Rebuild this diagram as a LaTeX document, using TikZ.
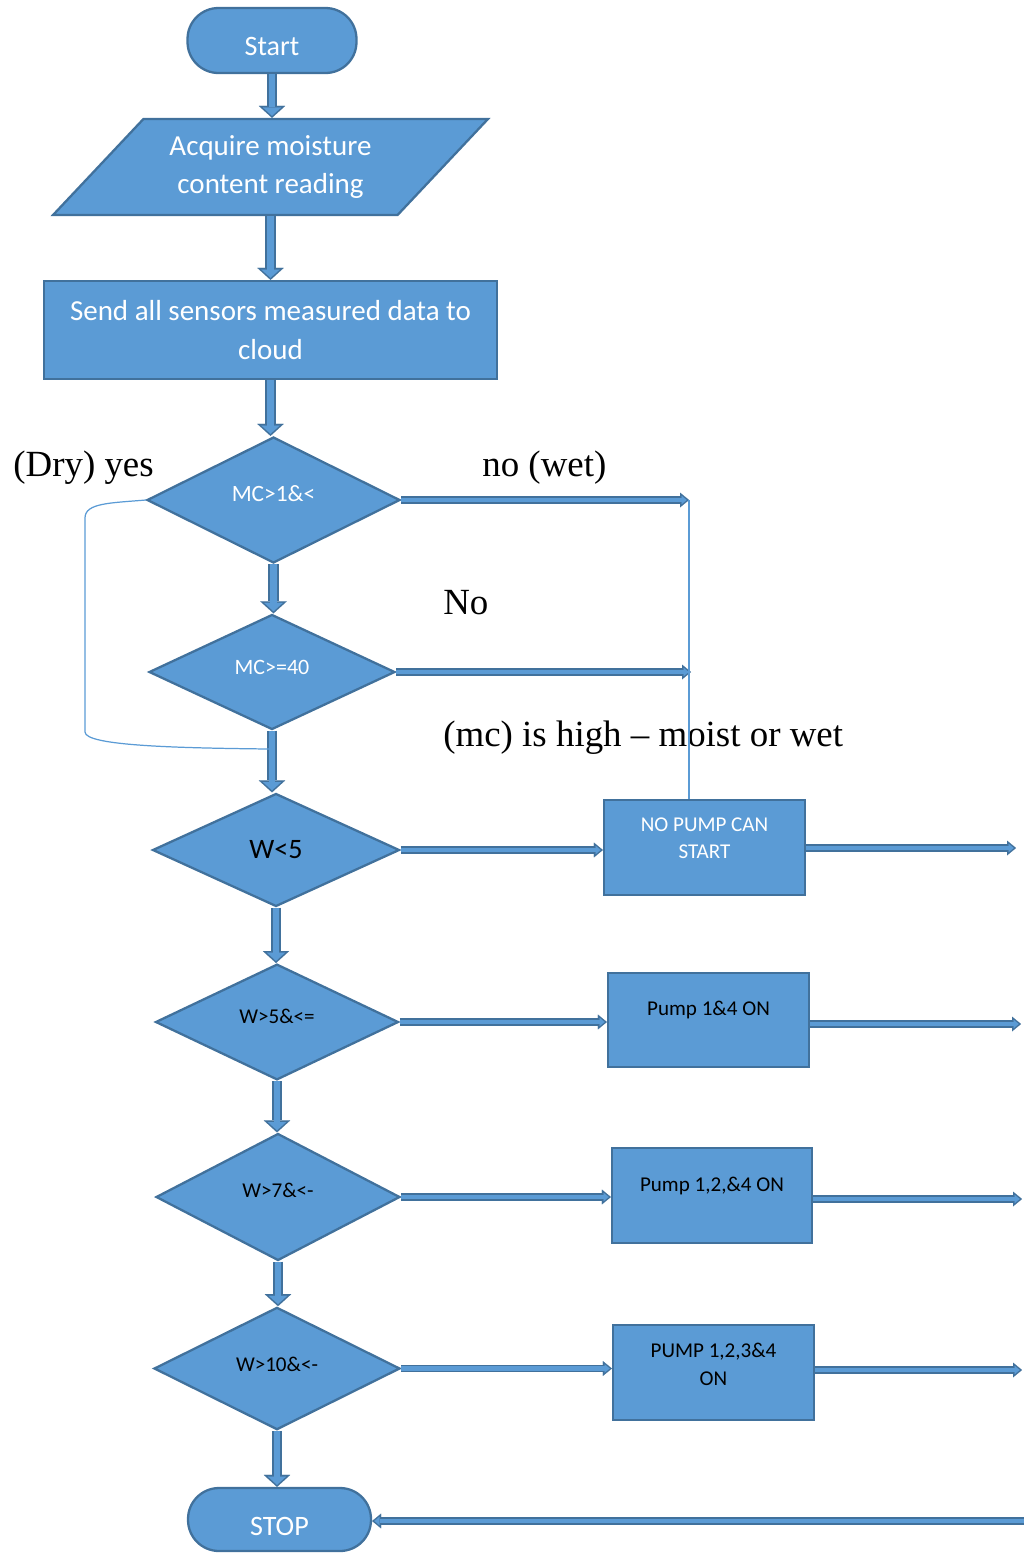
\documentclass[tikz,border=0pt]{standalone}
\usepackage{fontspec}
\setmainfont{Carlito}
\newfontfamily\labelfont{Liberation Serif}
\usetikzlibrary{shapes.geometric, arrows.meta, positioning}

\definecolor{boxblue}{RGB}{91,155,213}
\definecolor{edgeblue}{RGB}{65,113,156}

% text set a little above the middle of its shape
\newcommand{\lift}[2][4.5pt]{\raisebox{#1}[\height][\depth]{\begin{tabular}{@{}c@{}}#2\end{tabular}}}

\begin{document}
\begin{tikzpicture}[x=0.02cm, y=-0.02cm,
    base/.style={draw=edgeblue, fill=boxblue, line width=1.3pt, inner sep=2pt},
    terminal/.style={base, rectangle, rounded corners=0.62cm, text=white, font=\fontsize{16}{19}\selectfont},
    io/.style={base, trapezium, trapezium left angle=38, trapezium right angle=142, trapezium stretches body,
      minimum width=8.7cm, minimum height=1.92cm, text=white, align=center, font=\fontsize{16.5}{22}\selectfont},
    process/.style={base, rectangle, minimum width=9.06cm, minimum height=1.96cm, text=white, align=center,
      font=\fontsize{16.5}{22}\selectfont},
    decision/.style={base, diamond, minimum width=4.92cm, minimum height=2.24cm, font=\fontsize{12}{15}\selectfont},
    pumpbox/.style={base, rectangle, minimum width=4.02cm, minimum height=1.9cm, font=\fontsize{12}{15.6}\selectfont},
    remark/.style={font=\labelfont\fontsize{21}{25}\selectfont, anchor=west, inner sep=0pt},
    downflow/.style={preaction={draw=edgeblue, line width=6.2pt, shorten >=0pt,
        -{Triangle[length=6.8pt, width=15pt, line width=0.01pt]}},
      draw=boxblue, line width=3.9pt, shorten >=1.2pt, -{Triangle[length=4.7pt, width=10.4pt, line width=0.01pt]}},
    sideflow/.style={preaction={draw=edgeblue, line width=4.5pt, shorten >=0pt,
        -{Triangle[length=5.1pt, width=8.4pt, line width=0.01pt]}},
      draw=boxblue, line width=2.8pt, shorten >=1.3pt, -{Triangle[length=2.9pt, width=4.8pt, line width=0.01pt]}},
    thinline/.style={draw=boxblue, line width=0.7pt}
  ]

  \useasboundingbox (0,0) rectangle (1024,1553);

  % main column
  \node[terminal, minimum width=3.38cm, minimum height=1.3cm, text height=17.6pt, text depth=0pt] (start) at (272,40.5) {Start};
  \node[io] (acq) at (270.5,167) {Acquire moisture\\content reading};
  \node[process] (cloud) at (270.5,330) {Send all sensors measured data to\\cloud};
  \node[decision, minimum width=5.06cm, minimum height=2.52cm, text=white, font=\fontsize{13.3}{16}\selectfont] (mc1) at (273.5,500) {\lift[2.3pt]{MC>1\&<}};
  \node[decision, text=white, font=\fontsize{12.5}{15}\selectfont] (mc2) at (272,672) {\lift[1.7pt]{MC>=40}};
  \node[decision, minimum width=4.94cm, minimum height=2.26cm, font=\fontsize{16}{19}\selectfont] (w1) at (276,850) {W<5};
  \node[decision, minimum width=4.86cm] (w2) at (277,1022) {\lift[2.3pt]{W>5\&<=}};
  \node[decision, minimum width=4.88cm, minimum height=2.54cm] (w3) at (278,1197) {\lift[2.8pt]{W>7\&<-}};
  \node[decision] (w4) at (277,1368.5) {\lift[1.1pt]{W>10\&<-}};
  \node[terminal, minimum width=3.66cm, minimum height=1.26cm, text height=18.7pt, text depth=0pt] (stop) at (279.5,1519.5) {STOP};

  % pumps
  \node[pumpbox, text=white] (nopump) at (704.5,847.5) {\lift{NO PUMP CAN\\START}};
  \node[pumpbox, minimum height=1.88cm] (pump14) at (708.5,1020) {\lift[5.7pt]{Pump 1\&4 ON}};
  \node[pumpbox, minimum width=4cm] (pump124) at (712,1195.5) {\lift[5.4pt]{Pump 1,2,\&4 ON}};
  \node[pumpbox] (pump1234) at (713.5,1372.5) {\lift[3.7pt]{PUMP 1,2,3\&4\\ON}};

  % notes
  \node[remark] (dry) at (13,468) {(Dry) yes};
  \node[remark] (wet) at (482,468) {no (wet)};
  \node[remark] (no) at (443,603) {No};
  \node[remark] (high) at (443,738) {(mc) is high – moist or wet};

  \coordinate (wet1) at (689,500);
  \coordinate (wet2) at (691,672);
  \coordinate (loopend) at (269,749);
  \coordinate (exit1) at (1016,848);
  \coordinate (exit2) at (1021,1024);
  \coordinate (exit3) at (1022,1199);
  \coordinate (exit4) at (1022,1370);
  \coordinate (stopin) at (1024,1521);

  \draw[downflow] (start.south) -- (start.south |- acq.north);
  \draw[downflow] (acq.south) -- (acq.south |- cloud.north);
  \draw[downflow] (cloud.south) -- (cloud.south |- mc1.north);
  \draw[downflow] (mc1.south) -- (mc1.south |- mc2.north);
  \draw[downflow] (mc2.south) -- (mc2.south |- w1.north);
  \draw[downflow] (w1.south) -- (w1.south |- w2.north);
  \draw[downflow] (w2.south) -- (w2.south |- w3.north);
  \draw[downflow] (w3.south) -- (w3.south |- w4.north);
  \draw[downflow] (w4.south) -- (w4.south |- stop.north);

  \draw[sideflow] (mc1.east) -- (wet1);
  \draw[sideflow] (mc2.east) -- (wet2);
  \draw[sideflow] (w1.east) -- (w1.east -| nopump.west);
  \draw[sideflow] (w2.east) -- (w2.east -| pump14.west);
  \draw[sideflow] (w3.east) -- (w3.east -| pump124.west);
  \draw[sideflow] (w4.east) -- (w4.east -| pump1234.west);
  \draw[sideflow] (nopump.east |- exit1) -- (exit1);
  \draw[sideflow] (pump14.east |- exit2) -- (exit2);
  \draw[sideflow] (pump124.east |- exit3) -- (exit3);
  \draw[sideflow] (pump1234.east |- exit4) -- (exit4);
  \draw[sideflow] (stopin) -- (stopin -| stop.east);

  \draw[thinline] (wet1) -- (wet1 |- nopump.north);
  \draw[thinline] (mc1.west) .. controls (110,503) and (85,503) .. (85,518) -- (85,732)
    .. controls (85,746) and (180,748) .. (loopend);
\end{tikzpicture}
\end{document}
